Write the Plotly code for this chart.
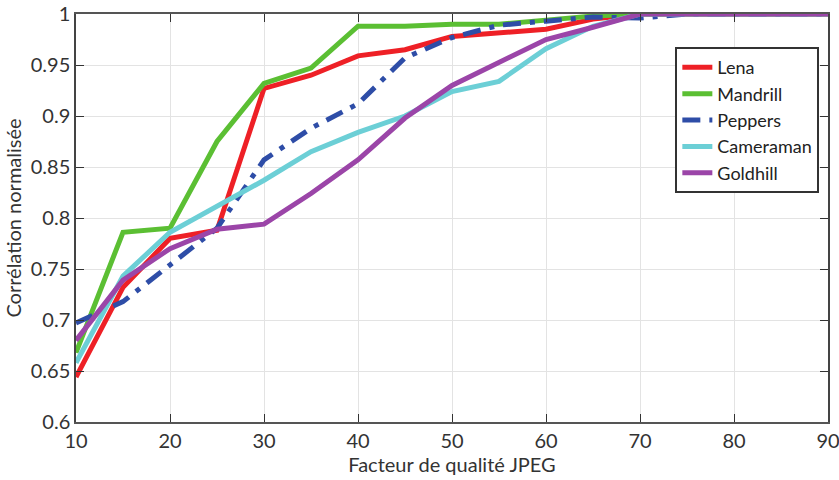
import plotly.graph_objects as go

quality = [10, 15, 20, 25, 30, 35, 40, 45, 50, 55, 60, 65, 70, 75, 80, 85, 90]

lena = [0.644, 0.732, 0.780, 0.788, 0.927, 0.940, 0.959, 0.965, 0.978, 0.981, 0.985, 0.995, 1.0, 1.0, 1.0, 1.0, 1.0]
mandrill = [0.668, 0.786, 0.790, 0.875, 0.932, 0.947, 0.988, 0.988, 0.990, 0.990, 0.994, 0.998, 1.0, 1.0, 1.0, 1.0, 1.0]
peppers = [0.697, 0.718, 0.754, 0.790, 0.857, 0.888, 0.912, 0.957, 0.977, 0.989, 0.993, 0.997, 0.996, 1.0, 1.0, 1.0, 1.0]
cameraman = [0.658, 0.743, 0.786, 0.811, 0.837, 0.865, 0.884, 0.900, 0.924, 0.934, 0.966, 0.988, 1.0, 1.0, 1.0, 1.0, 1.0]
goldhill = [0.680, 0.739, 0.770, 0.789, 0.794, 0.824, 0.857, 0.898, 0.930, 0.953, 0.975, 0.987, 1.0, 1.0, 1.0, 1.0, 1.0]

names = ["Lena", "Mandrill", "Peppers", "Cameraman", "Goldhill"]
series = [lena, mandrill, peppers, cameraman, goldhill]
colors = ["#EE2026", "#5BBF33", "#2E4DA7", "#6CCFD6", "#9B45A8"]
dashes = ["solid", "solid", "18px,9px,5px,9px", "solid", "solid"]

yticks = [0.6, 0.65, 0.7, 0.75, 0.8, 0.85, 0.9, 0.95, 1.0]
yticktext = ["0.6", "0.65", "0.7", "0.75", "0.8", "0.85", "0.9", "0.95", "1"]
xticks = [10, 20, 30, 40, 50, 60, 70, 80, 90]

fig = go.Figure()
for n, s, c, d in zip(names, series, colors, dashes):
    fig.add_trace(go.Scatter(x=quality, y=s, name=n, mode="lines",
                             line=dict(color=c, width=5, dash=d)))

font = "Lato"
fig.update_layout(
    width=839, height=480,
    margin=dict(l=76, r=11, t=14, b=58),
    paper_bgcolor="white", plot_bgcolor="white",
    font=dict(family=font, size=20, color="#333333"),
    legend=dict(x=0.797, y=0.919, xanchor="left", yanchor="top",
                bordercolor="#333333", borderwidth=2, bgcolor="white",
                font=dict(size=18, color="#222222"),
                tracegroupgap=0, itemwidth=30),
    showlegend=True,
)
fig.update_xaxes(range=[10, 90], tickvals=xticks, ticks="inside", ticklen=8,
                 showgrid=True, gridcolor="#E3E3E3", gridwidth=1,
                 showline=True, linecolor="#555555", linewidth=1.5, mirror="ticks",
                 tickcolor="#333333", zeroline=False, automargin=False,
                 ticklabeloverflow="allow",
                 title=dict(text="Facteur de qualité JPEG", font=dict(size=20, color="#333333"), standoff=2))
fig.update_yaxes(range=[0.6, 1.0], tickvals=yticks, ticktext=yticktext, ticks="inside", ticklen=8,
                 showgrid=True, gridcolor="#E3E3E3", gridwidth=1,
                 showline=True, linecolor="#444444", linewidth=1.5, mirror="ticks",
                 tickcolor="#333333", zeroline=False, automargin=False,
                 ticklabeloverflow="allow",
                 title=dict(text="Corrélation normalisée", font=dict(size=20, color="#333333"), standoff=4))

fig.write_html("out.html")
